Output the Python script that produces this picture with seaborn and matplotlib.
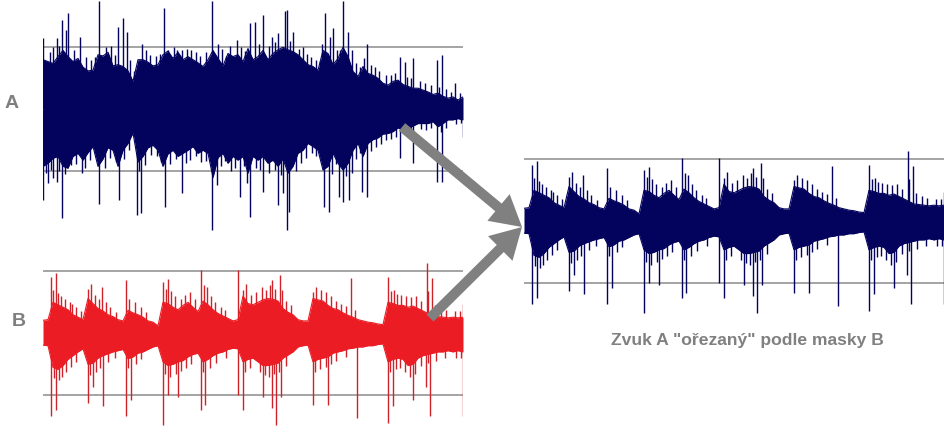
import numpy as np
import matplotlib.pyplot as plt
import seaborn as sns
from matplotlib.patches import FancyArrowPatch

# obalka zvuku A, jedna hodnota na kratky ramec, mrizka = +-1
a_top = [0.80, 0.77, 0.74, 0.85, 0.95, 0.85, 0.77, 0.82, 0.68, 0.62,
         0.63, 0.88, 0.86, 0.92, 0.70, 0.72, 0.69, 0.62, 0.45, 0.80,
         0.80, 0.76, 0.70, 0.72, 0.88, 0.94, 0.82, 0.92, 0.80, 0.85,
         0.80, 0.75, 0.69, 0.80, 0.95, 0.82, 0.70, 0.90, 0.85, 0.88,
         0.77, 0.98, 0.80, 0.85, 0.95, 0.80, 0.90, 0.96, 1.00, 0.96,
         0.93, 0.88, 0.80, 0.72, 0.69, 0.63, 0.95, 0.90, 0.72, 0.82,
         1.00, 0.85, 0.61, 0.53, 0.69, 0.58, 0.55, 0.50, 0.42, 0.39,
         0.45, 0.47, 0.40, 0.37, 0.34, 0.34, 0.31, 0.28, 0.24, 0.26,
         0.21, 0.18, 0.20, 0.15, 0.20]
a_bot = [-0.92, -0.87, -0.79, -0.76, -0.92, -0.95, -0.76, -0.71, -0.82, -0.70,
         -0.60, -0.92, -0.80, -0.62, -0.66, -0.92, -0.66, -0.55, -0.38, -0.85,
         -0.76, -0.62, -0.58, -0.66, -0.92, -0.72, -0.66, -0.76, -0.71, -0.66,
         -0.60, -0.71, -0.66, -0.71, -1.10, -0.78, -0.71, -0.87, -0.76, -0.82,
         -0.76, -1.03, -0.76, -0.82, -0.76, -0.87, -0.82, -0.92, -0.80, -1.03,
         -0.92, -0.71, -0.66, -0.55, -0.60, -0.66, -0.98, -0.92, -0.71, -0.87,
         -0.98, -0.87, -0.66, -0.55, -0.76, -0.55, -0.49, -0.46, -0.40, -0.39,
         -0.36, -0.30, -0.33, -0.30, -0.27, -0.23, -0.23, -0.23, -0.20, -0.28,
         -0.23, -0.17, -0.17, -0.15, -0.17]
# velke spicky zvuku A (cas v ramcich, amplituda)
a_up_t = [0.0, 2.0, 2.8, 3.8, 4.6, 5.0, 7.4, 11.2, 15.0, 16.0,
          16.8, 19.8, 24.2, 25.0, 27.8, 33.8, 35.0, 38.8, 41.4, 42.4,
          44.0, 45.8, 47.0, 48.4, 48.8, 50.0, 52.0, 56.4, 57.4, 58.0,
          60.0, 61.0, 64.8, 71.4, 72.4, 74.0, 78.8, 79.8, 82.4]
a_up = [1.15, 1.01, 1.15, 1.44, 1.28, 1.55, 1.17, 1.74, 1.33, 1.47,
        1.25, 1.06, 1.63, 0.96, 0.96, 1.74, 1.06, 1.12, 1.39, 1.41,
        1.52, 1.17, 1.23, 1.58, 1.60, 1.25, 1.01, 1.55, 1.17, 1.31,
        1.74, 1.25, 1.06, 0.85, 0.77, 0.82, 0.80, 0.88, 0.42]
a_dn_t = [0.0, 1.0, 2.0, 2.8, 3.8, 7.8, 11.2, 15.2, 18.8, 19.6,
          24.4, 27.8, 33.8, 34.8, 39.4, 40.8, 41.4, 44.0, 47.0, 48.0,
          48.8, 49.2, 56.2, 57.2, 59.2, 60.0, 61.2, 63.8, 64.8, 71.4,
          74.0, 78.8, 79.8, 84.0]
a_dn = [-1.46, -1.19, -1.11, -1.18, -1.76, -1.03, -1.53, -1.46, -1.70, -1.68,
        -1.57, -1.35, -1.94, -1.22, -1.41, -1.19, -1.73, -1.33, -1.54, -1.35,
        -1.94, -1.65, -1.57, -1.65, -1.41, -1.49, -1.46, -1.33, -1.41, -0.79,
        -0.87, -1.17, -1.17, -0.44]
# drobne jehlicky na okraji obalky A
a_nup_t = [1.4, 3.2, 6.2, 8.6, 9.6, 10.4, 12.6, 13.6, 14.4, 17.4,
           18.2, 20.6, 21.4, 22.6, 23.4, 26.2, 26.8, 28.8, 29.6, 30.6,
           31.4, 32.6, 35.8, 36.6, 37.4, 39.6, 40.4, 43.2, 45.2, 46.4,
           49.4, 51.2, 52.8, 53.6, 54.6, 55.4, 55.8, 58.8, 59.4, 61.8,
           62.6, 63.4, 64.2, 65.6, 66.4, 67.2, 68.6, 69.6, 70.4, 72.8,
           73.6, 75.4, 76.4, 77.6, 79.2, 80.6, 81.6, 83.4]
a_nup = [0.92, 1.02, 0.95, 0.85, 0.80, 0.84, 1.00, 1.02, 0.88, 0.80,
         0.62, 0.95, 0.88, 0.86, 0.90, 1.00, 0.95, 0.98, 0.95, 0.92,
         0.86, 0.92, 0.98, 0.86, 1.02, 1.00, 0.94, 1.05, 1.02, 1.08,
         1.10, 0.98, 0.90, 0.85, 0.80, 0.78, 1.06, 0.95, 0.96, 0.95,
         0.75, 0.68, 0.82, 0.72, 0.68, 0.62, 0.56, 0.55, 0.58, 0.52,
         0.50, 0.46, 0.42, 0.40, 0.36, 0.32, 0.28, 0.26]
a_ndn_t = [0.6, 1.6, 3.2, 4.4, 5.6, 6.6, 8.4, 9.4, 10.6, 12.4,
           13.4, 14.6, 16.2, 17.2, 19.2, 20.4, 21.6, 22.8, 23.6, 25.4,
           26.6, 28.6, 29.4, 30.6, 31.6, 32.6, 35.6, 36.4, 37.6, 38.4,
           40.2, 42.6, 43.4, 45.2, 46.4, 47.6, 50.6, 51.6, 52.6, 53.8,
           54.6, 55.6, 57.8, 58.6, 60.6, 61.8, 62.6, 63.4, 65.6, 66.6,
           67.6, 68.6, 69.6, 70.6, 72.6, 73.6, 75.6, 76.6, 77.6, 79.6,
           80.6, 82.6, 83.6]
a_ndn = [-1.02, -0.98, -1.00, -1.05, -0.90, -0.88, -0.95, -0.82, -0.72, -0.95,
         -0.78, -0.85, -0.80, -0.66, -1.00, -0.90, -0.74, -0.76, -0.85, -0.88,
         -0.80, -0.86, -0.82, -0.76, -0.85, -0.84, -0.92, -0.84, -1.00, -0.95,
         -0.92, -0.95, -0.98, -1.02, -0.98, -1.06, -1.00, -0.86, -0.78, -0.70,
         -0.76, -0.80, -1.05, -0.88, -1.08, -1.02, -0.80, -0.70, -0.68, -0.60,
         -0.56, -0.50, -0.48, -0.45, -0.42, -0.40, -0.32, -0.33, -0.30, -0.36,
         -0.30, -0.24, -0.22]

# obalka zvuku B (maska)
b_top = [0.21, 0.22, 0.50, 0.46, 0.42, 0.38, 0.30, 0.26, 0.22, 0.56,
         0.48, 0.40, 0.36, 0.30, 0.27, 0.22, 0.20, 0.37, 0.33, 0.30,
         0.26, 0.20, 0.18, 0.12, 0.50, 0.48, 0.42, 0.38, 0.45, 0.50,
         0.42, 0.35, 0.52, 0.46, 0.38, 0.32, 0.28, 0.24, 0.20, 0.22,
         0.60, 0.48, 0.46, 0.50, 0.54, 0.56, 0.55, 0.52, 0.40, 0.34,
         0.30, 0.22, 0.20, 0.20, 0.56, 0.54, 0.52, 0.45, 0.40, 0.38,
         0.33, 0.29, 0.26, 0.22, 0.20, 0.18, 0.17, 0.15, 0.14, 0.50,
         0.48, 0.45, 0.45, 0.42, 0.44, 0.40, 0.36, 0.32, 0.28, 0.27,
         0.26, 0.25, 0.26, 0.25, 0.26]
b_bot = [-0.19, -0.20, -0.55, -0.58, -0.52, -0.42, -0.36, -0.30, -0.25, -0.50,
         -0.48, -0.40, -0.36, -0.33, -0.30, -0.28, -0.26, -0.41, -0.38, -0.32,
         -0.30, -0.26, -0.22, -0.20, -0.46, -0.52, -0.50, -0.46, -0.44, -0.38,
         -0.34, -0.32, -0.46, -0.42, -0.36, -0.32, -0.30, -0.26, -0.24, -0.25,
         -0.46, -0.42, -0.40, -0.46, -0.52, -0.52, -0.50, -0.48, -0.40, -0.35,
         -0.30, -0.22, -0.20, -0.19, -0.46, -0.42, -0.40, -0.38, -0.32, -0.30,
         -0.28, -0.25, -0.24, -0.22, -0.22, -0.20, -0.20, -0.18, -0.17, -0.46,
         -0.42, -0.40, -0.42, -0.52, -0.50, -0.40, -0.36, -0.34, -0.32, -0.30,
         -0.30, -0.28, -0.30, -0.28, -0.30]
b_up_t = [1.6, 2.6, 5.4, 9.0, 11.8, 16.6, 24.0, 25.0, 31.6, 32.8,
          39.0, 40.0, 43.8, 45.8, 47.4, 54.0, 61.6, 69.0, 70.2, 76.8,
          77.8, 84.0]
b_up = [0.91, 0.97, 0.51, 0.71, 0.75, 0.86, 0.83, 0.87, 1.02, 0.75,
        1.02, 0.70, 0.75, 0.86, 0.94, 0.67, 0.89, 0.91, 0.70, 1.13,
        0.89, 0.48]
b_dn_t = [1.6, 2.6, 9.0, 10.0, 12.0, 16.6, 17.6, 24.0, 25.0, 27.0,
          31.6, 32.4, 39.0, 40.0, 44.0, 45.8, 46.6, 47.6, 54.0, 57.0,
          62.8, 69.0, 70.0, 74.0, 76.6, 77.4, 84.0]
b_dn = [-1.34, -1.23, -1.13, -0.86, -1.18, -1.34, -1.08, -1.48, -0.99, -1.02,
        -1.24, -1.16, -0.99, -1.24, -1.02, -1.21, -1.48, -1.02, -1.16, -1.16,
        -1.37, -1.45, -1.18, -1.08, -0.86, -1.34, -1.34]
b_nup_t = [2.0, 3.0, 3.6, 4.4, 5.8, 6.6, 7.6, 9.6, 10.4, 11.2,
           12.6, 13.4, 14.6, 17.2, 18.4, 19.6, 20.6, 24.6, 25.6, 26.4,
           27.6, 28.4, 29.4, 30.4, 32.2, 33.6, 34.4, 35.6, 36.4, 40.6,
           41.6, 42.6, 44.6, 45.4, 46.4, 47.8, 48.6, 49.6, 54.6, 55.6,
           56.6, 57.6, 58.6, 59.6, 60.6, 62.4, 69.6, 70.8, 71.6, 72.6,
           73.6, 74.6, 75.6, 77.0, 78.4, 79.6, 80.6, 82.4, 83.4]
b_nup = [0.70, 0.65, 0.60, 0.55, 0.48, 0.42, 0.36, 0.80, 0.62, 0.55,
         0.50, 0.42, 0.35, 0.55, 0.50, 0.42, 0.35, 0.72, 0.68, 0.60,
         0.55, 0.62, 0.66, 0.55, 0.78, 0.60, 0.50, 0.42, 0.38, 0.80,
         0.62, 0.66, 0.70, 0.78, 0.72, 0.70, 0.52, 0.45, 0.74, 0.70,
         0.66, 0.60, 0.52, 0.48, 0.44, 0.38, 0.68, 0.64, 0.62, 0.60,
         0.58, 0.60, 0.52, 0.68, 0.45, 0.40, 0.38, 0.36, 0.36]
b_ndn_t = [2.2, 3.2, 3.8, 4.6, 5.6, 6.6, 9.4, 10.6, 11.4, 13.0,
           14.4, 17.0, 18.6, 19.6, 24.4, 25.4, 26.6, 27.6, 28.6, 29.6,
           32.0, 33.4, 34.6, 36.6, 40.4, 41.4, 43.4, 44.4, 45.2, 46.2,
           47.2, 48.6, 54.4, 55.4, 56.6, 57.6, 58.6, 60.6, 69.4, 70.6,
           71.4, 72.4, 73.4, 74.4, 75.6, 77.0, 78.6, 80.4, 82.6, 83.6]
b_ndn = [-0.72, -0.75, -0.70, -0.62, -0.55, -0.46, -0.68, -0.62, -0.56, -0.46,
         -0.40, -0.56, -0.50, -0.42, -0.65, -0.70, -0.66, -0.60, -0.56, -0.50,
         -0.62, -0.56, -0.48, -0.40, -0.62, -0.56, -0.62, -0.68, -0.70, -0.65,
         -0.62, -0.52, -0.62, -0.58, -0.54, -0.50, -0.44, -0.38, -0.62, -0.58,
         -0.56, -0.62, -0.70, -0.66, -0.52, -0.48, -0.44, -0.40, -0.40, -0.40]

labels = ['A', 'B']
caption = 'Zvuk A "ořezaný" podle masky B'

navy = '#03035e'
red = '#ec1c24'
red_dark = '#cf222b'
grey = '#8c8c8c'
arrow_grey = '#808080'

sns.set_theme(style='white')
plt.rcParams['font.family'] = ['Liberation Sans', 'DejaVu Sans']

W, H = 944, 434
fig = plt.figure(figsize=(W / 100, H / 100), dpi=100)
fig.patch.set_facecolor('white')

PX = 62.0   # pixelu na jednotku amplitudy
YL = 2.1


def panel(left, width, cy, top, bot, spikes, color, spike_color):
    h = 2 * YL * PX
    ax = fig.add_axes([left / W, (H - cy - h / 2) / H, width / W, h / H])
    ax.set_facecolor('none')
    t = np.arange(len(top))
    ax.axhline(1, color=grey, lw=1.1, zorder=0.5)
    ax.axhline(-1, color=grey, lw=1.1, zorder=0.5)
    # jehly pod vyplni, aby uvnitr obalky nebyly videt
    for st, sv in spikes:
        ax.vlines(st, 0, sv, color=spike_color, lw=1.0, zorder=1.5)
    ax.fill_between(t, bot, top, color=color, lw=0, zorder=2)
    sns.lineplot(x=t, y=top, color=color, lw=0.8, estimator=None, ax=ax, zorder=2)
    sns.lineplot(x=t, y=bot, color=color, lw=0.8, estimator=None, ax=ax, zorder=2)
    ax.set_xlim(0, len(top) - 1)
    ax.set_ylim(-YL, YL)
    ax.axis('off')
    return ax


a_spikes = [(a_up_t, a_up), (a_dn_t, a_dn), (a_nup_t, a_nup), (a_ndn_t, a_ndn)]
b_spikes = [(b_up_t, b_up), (b_dn_t, b_dn), (b_nup_t, b_nup), (b_ndn_t, b_ndn)]

ax_a = panel(43, 420, 109.3, a_top, a_bot, a_spikes, navy, navy)
ax_b = panel(43, 420, 333.3, b_top, b_bot, b_spikes, red, red_dark)
# vysledek: zvuk A orezany obalkou B
ax_c = panel(524, 420, 221.3, b_top, b_bot, b_spikes, navy, navy)

fig.text(12 / W, 1 - 103 / H, labels[0], ha='center', va='center',
         fontsize=14, fontweight='bold', color='#7f7f7f')
fig.text(18.5 / W, 1 - 322 / H, labels[1], ha='center', va='center',
         fontsize=14, fontweight='bold', color='#7f7f7f')
fig.text(747 / W, 1 - 340 / H, caption, ha='center', va='center',
         fontsize=12.6, fontweight='bold', color='#808080')

# sipky A -> vysledek, B -> vysledek
tip = (522 / W, 1 - 227 / H)
for start in [(402 / W, 1 - 127 / H), (430 / W, 1 - 318 / H)]:
    arr = FancyArrowPatch(start, tip, transform=fig.transFigure,
                          arrowstyle='simple,head_length=2.2,head_width=2.5,tail_width=0.72',
                          mutation_scale=10, color=arrow_grey, lw=0,
                          shrinkA=0, shrinkB=0, zorder=5)
    fig.add_artist(arr)

fig.savefig('out.png', dpi=100, facecolor='white')
